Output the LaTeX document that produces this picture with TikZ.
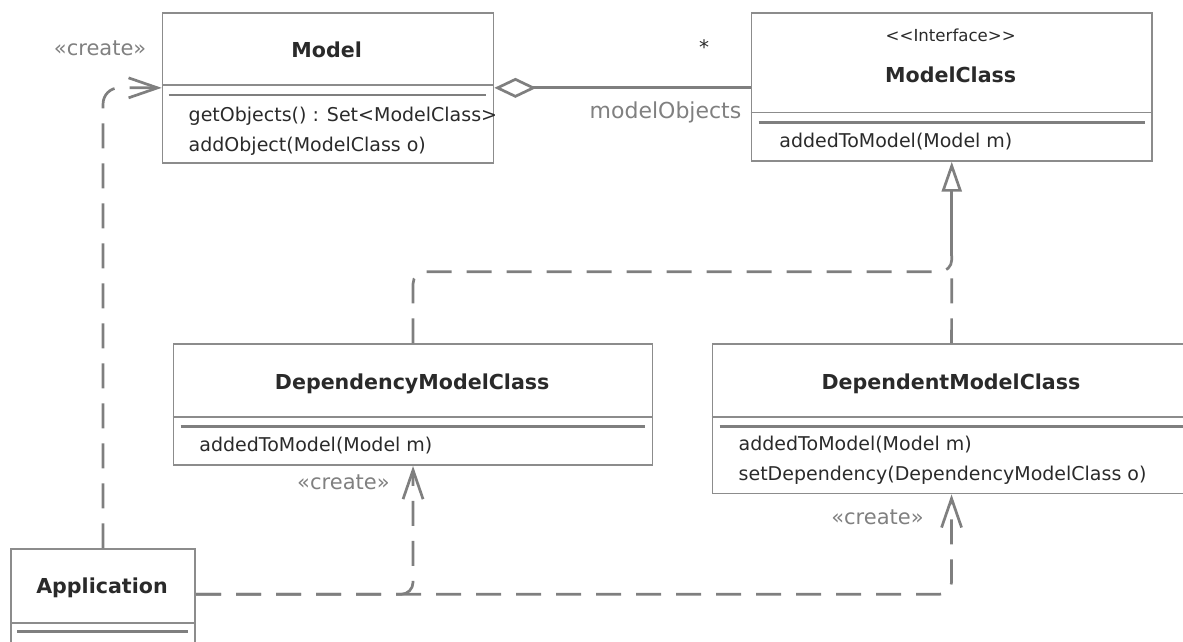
\documentclass[tikz,border=0pt]{standalone}
\usepackage{fontspec}
\setmainfont{DejaVu Sans}
\usetikzlibrary{arrows.meta}

\definecolor{umlline}{HTML}{7F7F7F}
\definecolor{umlbox}{HTML}{8C8C8C}
\definecolor{umltext}{HTML}{2A2A2A}
\definecolor{umllabel}{HTML}{808080}

\tikzset{
  classbox/.style={rectangle,draw=umlbox,line width=0.85pt,anchor=north west,inner sep=0pt},
  sepline/.style={draw=umlbox,line width=0.85pt},
  dblline/.style={draw=umlline,line width=1.3pt},
  classname/.style={font=\fontsize{10.3}{12}\selectfont\bfseries,text=umltext,inner sep=0pt,anchor=base},
  member/.style={font=\fontsize{9.5}{11}\selectfont,text=umltext,inner sep=0pt,anchor=base west},
  stereo/.style={font=\fontsize{10.5}{12}\selectfont,text=umllabel,inner sep=0pt,anchor=base east},
  dep/.style={draw=umlline,line width=1.35pt,dash pattern=on 12.5pt off 7.5pt},
  assoc/.style={draw=umlline,line width=1.35pt},
  openhead/.style={-{Straight Barb[length=14.5pt,width=10pt]}},
}

\begin{document}
\begin{tikzpicture}[x=0.5pt,y=-0.5pt]
\useasboundingbox (0,0) rectangle (1183,642);
\clip (0,0) rectangle (1183,642);

% Model
\node[classbox,minimum width=165.5pt,minimum height=75pt] at (161.7,12) (model) {};
\draw[sepline] ([yshift=-36.5pt]model.north west) -- ([yshift=-36.5pt]model.north east);
\draw[dblline] ([yshift=-41.5pt,xshift=3.5pt]model.north west) -- ([yshift=-41.5pt,xshift=-4pt]model.north east);
\node[classname] at (326.7,58) (modeltitle) {Model};
\node[member] at (188.3,121) (modelget) {getObjects() : Set<ModelClass>};
\node[member] at (188.3,151.7) (modeladd) {addObject(ModelClass o)};

% ModelClass
\node[classbox,minimum width=200.2pt,minimum height=74pt] at (750.7,12) (mcls) {};
\draw[sepline] ([yshift=-50.3pt]mcls.north west) -- ([yshift=-50.3pt]mcls.north east);
\draw[dblline] ([yshift=-55.3pt,xshift=4pt]mcls.north west) -- ([yshift=-55.3pt,xshift=-4pt]mcls.north east);
\node[font=\fontsize{8.3}{10}\selectfont,text=umltext,inner sep=0pt] at (950.7,35) (mclsstereo) {<{}<Interface>{}>};
\node[classname] at (950.7,83) (mclstitle) {ModelClass};
\node[member] at (779,147.5) (mclsadd) {addedToModel(Model m)};

% DependencyModelClass
\node[classbox,minimum width=239.5pt,minimum height=60.5pt] at (172.7,343.3) (dcls) {};
\draw[sepline] ([yshift=-36.7pt]dcls.north west) -- ([yshift=-36.7pt]dcls.north east);
\draw[dblline] ([yshift=-41.7pt,xshift=4pt]dcls.north west) -- ([yshift=-41.7pt,xshift=-4pt]dcls.north east);
\node[classname] at (412.2,389.3) (dclstitle) {DependencyModelClass};
\node[member] at (199,451.7) (dclsadd) {addedToModel(Model m)};

% DependentModelClass
\node[classbox,minimum width=239pt,minimum height=74.7pt] at (711.7,343.3) (dtcls) {};
\draw[sepline] ([yshift=-37pt]dtcls.north west) -- ([yshift=-37pt]dtcls.north east);
\draw[dblline] ([yshift=-41.7pt,xshift=4pt]dtcls.north west) -- ([yshift=-41.7pt,xshift=-4pt]dtcls.north east);
\node[classname] at (951,389.5) (dtclstitle) {DependentModelClass};
\node[member] at (738.3,450.7) (dtclsadd) {addedToModel(Model m)};
\node[member] at (738.3,480) (dtclsset) {setDependency(DependencyModelClass o)};

% Application
\node[classbox,minimum width=92.2pt,minimum height=56pt] at (10,548.3) (app) {};
\draw[sepline] ([yshift=-37.2pt]app.north west) -- ([yshift=-37.2pt]app.north east);
\draw[dblline] ([yshift=-41.7pt,xshift=3.5pt]app.north west) -- ([yshift=-41.7pt,xshift=-4pt]app.north east);
\node[classname] at (102,593.3) (apptitle) {Application};

% aggregation
\draw[assoc,{Diamond[open,length=21pt,width=10pt]}-] (model.east) -- (mcls.west |- model.east);
\node[font=\fontsize{10}{12}\selectfont,text=umltext,inner sep=0pt] at (704,47) (mult) {*};
\node[stereo,font=\fontsize{11}{13}\selectfont] at (741.7,119) (role) {modelObjects};

% realisation
\path (mcls.south) ++(0,110) coordinate (rj);
\draw[dep,rounded corners=6pt] (dcls.north) |- (rj) -- ++(0,-16);
\draw[dep] (dtcls.north) -- (rj);
\draw[assoc,-{Triangle[open,length=15pt,width=10pt,fill=white]}] ([yshift=8pt]rj) -- (mcls.south);

% create
\coordinate (appout) at ([yshift=-23pt]app.north east);
\draw[dep,openhead,rounded corners=8pt] (app.north) |- (model.west);
\draw[dep,openhead,rounded corners=6pt] (appout) -| (dcls.south);
\draw[dep,openhead,rounded corners=6pt] (appout) -| (dtcls.south);
\node[stereo] at (146.7,56) (createmodel) {«create»};
\node[stereo] at (390,489) (createdcls) {«create»};
\node[stereo] at (924,524) (createdtcls) {«create»};

\end{tikzpicture}
\end{document}
